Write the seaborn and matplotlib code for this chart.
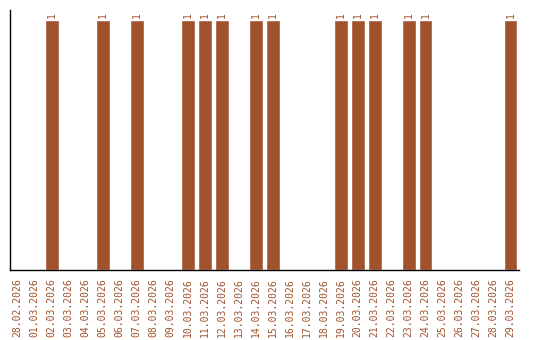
import matplotlib
matplotlib.use("Agg")
import matplotlib.pyplot as plt
import seaborn as sns
import pandas as pd

dates = ["28.02.2026", "01.03.2026", "02.03.2026", "03.03.2026", "04.03.2026",
         "05.03.2026", "06.03.2026", "07.03.2026", "08.03.2026", "09.03.2026",
         "10.03.2026", "11.03.2026", "12.03.2026", "13.03.2026", "14.03.2026",
         "15.03.2026", "16.03.2026", "17.03.2026", "18.03.2026", "19.03.2026",
         "20.03.2026", "21.03.2026", "22.03.2026", "23.03.2026", "24.03.2026",
         "25.03.2026", "26.03.2026", "27.03.2026", "28.03.2026", "29.03.2026"]
counts = [0, 0, 1, 0, 0, 1, 0, 1, 0, 0,
          1, 1, 1, 0, 1, 1, 0, 0, 0, 1,
          1, 1, 0, 1, 1, 0, 0, 0, 0, 1]

color = "#A0522D"
df = pd.DataFrame({"date": dates, "count": counts})

sns.set_style("white")
fig = plt.figure(figsize=(5.4, 3.4), dpi=100)
ax = fig.add_axes([10/540, 70/340, 509/540, 260/340])
sns.barplot(data=df, x="date", y="count", color=color, saturation=1, width=0.82, ax=ax)

ax.set_xlim(-0.45, 29.5)
ax.set_ylim(0, 1.04)
ax.set_xlabel("")
ax.set_ylabel("")
ax.set_yticks([])
ax.tick_params(axis="x", length=0, pad=6)
ax.set_xticks(range(len(dates)))
ax.set_xticklabels(dates, rotation=90, color=color, fontsize=7, family="DejaVu Sans Mono")
for s in ["top", "right"]:
    ax.spines[s].set_visible(False)
for s in ["left", "bottom"]:
    ax.spines[s].set_color("black")
    ax.spines[s].set_linewidth(1)

for i, v in enumerate(counts):
    if v > 0:
        ax.text(i, v + 0.008, str(v), rotation=90, ha="center", va="bottom",
                color=color, fontsize=7, family="DejaVu Sans Mono")

fig.savefig("out.png", dpi=100)
